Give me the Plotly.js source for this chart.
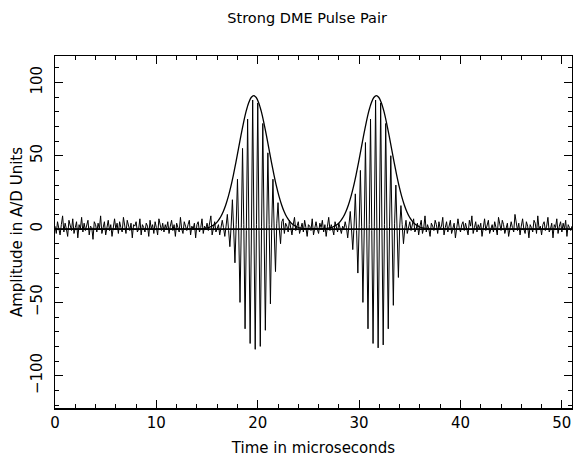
<!DOCTYPE html>
<html>
<head>
<meta charset="utf-8">
<script src="https://cdn.plot.ly/plotly-3.0.1.min.js"></script>
<style>html,body{margin:0;padding:0;background:#fff;}#chart{width:573px;height:461px;}</style>
</head>
<body>
<div id="chart"></div>
<script>
// Sampled trace: one sample every 0.125 microseconds, starting at t = 0
var sampleStep = 0.125;
var signalValues = [
  2, -3, 5, 1, -4, 3, 9, -2,
  4, 0, -5, 6, 2, -1, 7, -3,
  1, 5, -6, 3, 0, 8, -2, 4,
  -1, 3, 6, -4, 2, 1, -7, 5,
  3, -2, 4, 0, 9, -3, 2, 5,
  -4, 1, 6, -1, 3, -5, 2, 7,
  0, 4, -3, 5, 1, -2, 8, 2,
  -3, 6, 1, -1, 4, -6, 3, 2,
  5, -2, 0, 7, -4, 3, 1, -2,
  4, 2, -5, 6, 0, 3, -3, 5,
  1, -4, 7, 2, -1, 4, -2, 3,
  0, 5, -3, 2, 6, -1, 3, -5,
  4, 1, -2, 8, 0, -3, 5, 2,
  -1, 3, 6, -4, 2, 0, 4, -6,
  3, 5, -2, 1, 7, -3, 2, 0,
  4, -1, 3, 9, -4, 2, 5, -2,
  1, 3, -4, 2, 6, 1, -5, 2,
  10, -1, -12, 2, 20, 0, -23, 3,
  34, -2, -50, 1, 55, 3, -68, -1,
  75, 2, -78, -2, 88, 1, -82, 3,
  86, -1, -80, 2, 72, 0, -69, -2,
  52, 3, -51, 1, 34, -2, -29, 4,
  18, 0, -10, 5, 7, -3, 4, 2,
  -2, 6, 1, -4, 3, 8, -1, 2,
  5, -3, 0, 4, -2, 6, 1, -5,
  3, 2, -1, 7, -4, 2, 5, 0,
  -3, 4, 1, 6, -2, 3, -5, 2,
  8, -1, 3, 0, -4, 5, 2, -2,
  4, 1, -3, 2, 0, 5, 1, -6,
  3, 12, 0, -14, 2, 24, -1, -30,
  1, 40, 2, -50, -2, 59, 0, -68,
  3, 75, -1, -78, 2, 88, 0, -81,
  -2, 86, 1, -79, 3, 72, -1, -68,
  2, 50, 0, -52, 4, 30, -2, -33,
  1, 16, 3, -10, 0, 6, -3, 2,
  5, -1, 3, 7, -2, 0, 4, -4,
  2, 6, -3, 1, 9, -2, 3, 0,
  -5, 4, 2, -1, 6, 3, -3, 5,
  0, 2, 8, -4, 1, 5, -2, 3,
  6, -3, 0, 4, -6, 2, 7, 1,
  -2, 3, 5, -1, 4, 0, -4, 6,
  2, 9, -3, 1, 5, -2, 3, 0,
  4, -5, 2, 7, -1, 3, 6, -3,
  0, 3, -2, 5, 1, -4, 8, 2,
  -1, 6, 3, -3, 0, 4, -5, 2,
  5, 1, -2, 10, 3, -1, 4, -4,
  2, 7, 0, -3, 5, 2, -6, 3,
  1, -2, 6, 4, -3, 9, 0, 2,
  -4, 3, 5, -1, 2, 8, -2, 0,
  4, -6, 3, 1, 7, -3, 2, 5,
  -2, 4, 0, 6, -5, 3, 1, -1,
  2
];

// Pulse envelopes, sampled every 0.25 microseconds
var envelopeStep = 0.25;
var envelope1Start = 14.6;
var envelope1Values = [0.3, 0.6, 0.9, 1.6, 2.5, 3.8, 5.8, 8.4, 12.0, 16.6, 22.3, 29.1, 37.0, 45.7, 54.8, 64.0, 72.6, 80.2, 86.0, 89.7, 91.0,
  89.7, 86.0, 80.2, 72.6, 64.0, 54.8, 45.7, 37.0, 29.1, 22.3, 16.6, 12.0, 8.4, 5.8, 3.8, 2.5, 1.6, 0.9, 0.6, 0.3];
var envelope2Start = 26.7;
var envelope2Values = [0.3, 0.6, 0.9, 1.6, 2.5, 3.8, 5.8, 8.4, 12.0, 16.6, 22.3, 29.1, 37.0, 45.7, 54.8, 64.0, 72.6, 80.2, 86.0, 89.7, 91.0,
  89.7, 86.0, 80.2, 72.6, 64.0, 54.8, 45.7, 37.0, 29.1, 22.3, 16.6, 12.0, 8.4, 5.8, 3.8, 2.5, 1.6, 0.9, 0.6, 0.3];
var timeStart = 0, timeEnd = 51;
var baselineLevel = 0;

var xTickVals = [0, 10, 20, 30, 40, 50];
var yTickVals = [-100, -50, 0, 50, 100];
var yTickText = ['\u2212100', '\u221250', '0', '50', '100'];

var sigX = signalValues.map(function (v, i) { return timeStart + i * sampleStep; });

var envX = [timeStart], envY = [0];
envelope1Values.forEach(function (v, i) { envX.push(envelope1Start + i * envelopeStep); envY.push(v); });
envelope2Values.forEach(function (v, i) { envX.push(envelope2Start + i * envelopeStep); envY.push(v); });
envX.push(timeEnd); envY.push(0);

var FONT = 'DejaVu Sans, sans-serif';

var traces = [
  {x: sigX, y: signalValues, type: 'scatter', mode: 'lines', line: {color: '#000', width: 1}, hoverinfo: 'skip'},
  {x: [timeStart, timeEnd], y: [baselineLevel, baselineLevel], type: 'scatter', mode: 'lines', line: {color: '#000', width: 1.8}, hoverinfo: 'skip'},
  {x: envX, y: envY, type: 'scatter', mode: 'lines', line: {color: '#000', width: 1.3, shape: 'spline', smoothing: 0.6}, hoverinfo: 'skip'}
];

var layout = {
  width: 573, height: 461,
  margin: {l: 55, r: 1, t: 56, b: 53, pad: 0},
  paper_bgcolor: '#fff', plot_bgcolor: '#fff',
  showlegend: false,
  font: {family: FONT, size: 14, color: '#000'},
  title: {text: 'Strong DME Pulse Pair', font: {family: FONT, size: 14.5, color: '#000'},
          x: 0.536, xref: 'container', xanchor: 'center', y: 0.961, yref: 'container', yanchor: 'middle'},
  xaxis: {
    range: [timeStart, timeEnd], tickmode: 'array', tickvals: xTickVals, ticktext: xTickVals.map(String),
    ticks: 'inside', ticklen: 8, tickwidth: 1, tickcolor: '#000',
    minor: {dtick: 2, tick0: 0, ticks: 'inside', ticklen: 4, tickwidth: 1, tickcolor: '#000', showgrid: false},
    showline: true, linecolor: '#000', linewidth: 1.5, mirror: 'ticks',
    showgrid: false, zeroline: false, automargin: false,
    tickfont: {family: FONT, size: 15, color: '#000'},
    title: {text: 'Time in microseconds', font: {family: FONT, size: 15, color: '#000'}, standoff: 12}
  },
  yaxis: {
    range: [-122, 118], tickmode: 'array', tickvals: yTickVals, ticktext: yTickText,
    tickangle: -90,
    ticks: 'inside', ticklen: 8, tickwidth: 1, tickcolor: '#000',
    minor: {dtick: 10, tick0: 0, ticks: 'inside', ticklen: 4, tickwidth: 1, tickcolor: '#000', showgrid: false},
    showline: true, linecolor: '#000', linewidth: 1.5, mirror: 'ticks',
    showgrid: false, zeroline: false, automargin: false,
    tickfont: {family: FONT, size: 15, color: '#000'},
    ticklabelstandoff: 6,
    title: {text: 'Amplitude in A/D Units', font: {family: FONT, size: 15, color: '#000'}, standoff: 1}
  }
};

Plotly.newPlot('chart', traces, layout, {displayModeBar: false, staticPlot: true});
</script>
</body>
</html>
